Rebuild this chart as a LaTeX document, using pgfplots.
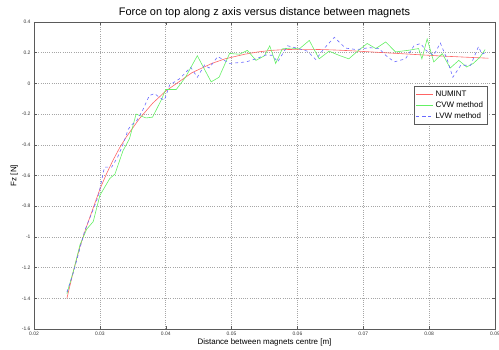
\documentclass[border=0pt]{standalone}
\usepackage{pgfplots}
\pgfplotsset{compat=1.18}
\usepackage{fontspec}
\setmainfont{Liberation Sans}
\definecolor{cred}{RGB}{255,100,100}
\definecolor{cgreen}{RGB}{100,240,100}
\definecolor{cblue}{RGB}{105,105,255}
\definecolor{axcol}{RGB}{90,90,90}
\begin{document}
\begin{tikzpicture}
\begin{axis}[
  scale only axis,
  width=461bp, height=307bp,
  xmin=0.02, xmax=0.09, ymin=-1.6, ymax=0.4,
  xtick={0.02,0.03,...,0.09},
  ytick={-1.6,-1.4,...,0.4},
  scaled x ticks=false, scaled y ticks=false,
  xticklabel style={/pgf/number format/fixed,/pgf/number format/precision=2},
  yticklabel style={/pgf/number format/fixed,/pgf/number format/precision=1},
  /pgf/number format/assume math mode=true,
  tick label style={font=\fontsize{5}{6}\selectfont, text=black!80},
  tick align=inside, tick pos=both,
  major tick length=3bp,
  axis line style={axcol},
  every tick/.style={axcol},
  grid=major,
  major grid style={black!35, line width=0.45pt, dash pattern=on 0.6bp off 1.6bp},
  title={Force on top along z axis versus distance between magnets},
  title style={font=\fontsize{11}{13}\selectfont, yshift=-5bp},
  xlabel={Distance between magnets centre [m]},
  ylabel={Fz [N]},
  label style={font=\fontsize{8}{10}\selectfont},
  xlabel style={yshift=4bp},
  ylabel style={yshift=-3bp},
  legend style={at={(0.983,0.79)}, anchor=north east, font=\fontsize{8}{10}\selectfont,
    draw=axcol, fill=white, inner sep=2pt, row sep=0pt},
  legend cell align=left,
]
\addplot[cred, line width=0.6pt] coordinates {
(0.025,-1.40) (0.026,-1.22) (0.027,-1.06) (0.028,-0.93) (0.029,-0.81)
(0.030,-0.69) (0.031,-0.59) (0.032,-0.50) (0.033,-0.42) (0.034,-0.35)
(0.035,-0.29) (0.036,-0.23) (0.037,-0.18) (0.038,-0.13) (0.039,-0.09)
(0.040,-0.05) (0.041,-0.02) (0.042,0.01) (0.043,0.04) (0.044,0.07)
(0.045,0.09) (0.046,0.11) (0.047,0.13) (0.048,0.145) (0.049,0.16)
(0.050,0.17) (0.052,0.19) (0.054,0.205) (0.056,0.215) (0.058,0.22)
(0.060,0.222) (0.062,0.222) (0.064,0.22) (0.066,0.217) (0.068,0.213)
(0.070,0.208) (0.072,0.203) (0.074,0.198) (0.076,0.193) (0.078,0.188)
(0.080,0.183) (0.082,0.178) (0.084,0.174) (0.086,0.170) (0.088,0.166)
(0.089,0.164)
};
\addlegendentry{NUMINT}
\addplot[cgreen, line width=0.6pt] coordinates {
(0.025,-1.37) (0.026,-1.22) (0.027,-1.05) (0.028,-0.95) (0.029,-0.90)
(0.030,-0.73) (0.0315,-0.62) (0.0323,-0.59) (0.0335,-0.44) (0.0345,-0.36)
(0.0355,-0.20) (0.0370,-0.225) (0.0380,-0.22) (0.0393,-0.11) (0.0400,-0.04)
(0.0416,-0.04) (0.0430,0.04) (0.0448,0.18) (0.0469,0.01) (0.0481,0.04)
(0.0497,0.195) (0.0512,0.19) (0.0524,0.215) (0.0537,0.15) (0.0550,0.18)
(0.0558,0.245) (0.0567,0.13) (0.0577,0.225) (0.0590,0.23) (0.0603,0.225)
(0.0618,0.28) (0.0633,0.16) (0.0648,0.21) (0.0663,0.183) (0.0678,0.16)
(0.0693,0.216) (0.0706,0.26) (0.0719,0.227) (0.0734,0.27) (0.0749,0.205)
(0.0769,0.216) (0.0784,0.227) (0.0789,0.16) (0.0797,0.29) (0.0807,0.14)
(0.0820,0.194) (0.0832,0.10) (0.0845,0.15) (0.0857,0.107) (0.0867,0.13)
(0.0877,0.17) (0.0885,0.22)
};
\addlegendentry{CVW method}
\addplot[cblue, line width=0.6pt, dashed] coordinates {
(0.025,-1.36) (0.026,-1.23) (0.027,-1.07) (0.0277,-0.96) (0.029,-0.82)
(0.0298,-0.73) (0.0307,-0.545) (0.0318,-0.545) (0.0327,-0.48) (0.0335,-0.40)
(0.0343,-0.30) (0.0348,-0.27) (0.0355,-0.25) (0.0365,-0.175) (0.0375,-0.08)
(0.0383,-0.066) (0.0390,-0.09) (0.0398,-0.11) (0.0406,-0.01) (0.0421,0.03)
(0.0438,0.105) (0.0448,0.04) (0.0459,0.12) (0.0466,0.10) (0.0479,0.175)
(0.0497,0.13) (0.0510,0.135) (0.0522,0.14) (0.0537,0.16) (0.0552,0.185)
(0.0562,0.183) (0.0570,0.14) (0.0585,0.245) (0.0603,0.225) (0.0615,0.21)
(0.0628,0.155) (0.0640,0.225) (0.0656,0.30) (0.0673,0.23) (0.0690,0.22)
(0.0709,0.233) (0.0724,0.227) (0.0734,0.183) (0.0747,0.14) (0.0764,0.16)
(0.0777,0.245) (0.0787,0.26) (0.0795,0.216) (0.0807,0.183) (0.0817,0.263)
(0.0827,0.16) (0.0836,0.04) (0.0848,0.118) (0.0863,0.118) (0.0875,0.24)
(0.0880,0.19) (0.0885,0.20)
};
\addlegendentry{LVW method}
\end{axis}
\pgfresetboundingbox
\path[use as bounding box] (-34bp,-21bp) rectangle (465bp,329bp);
\end{tikzpicture}
\end{document}
